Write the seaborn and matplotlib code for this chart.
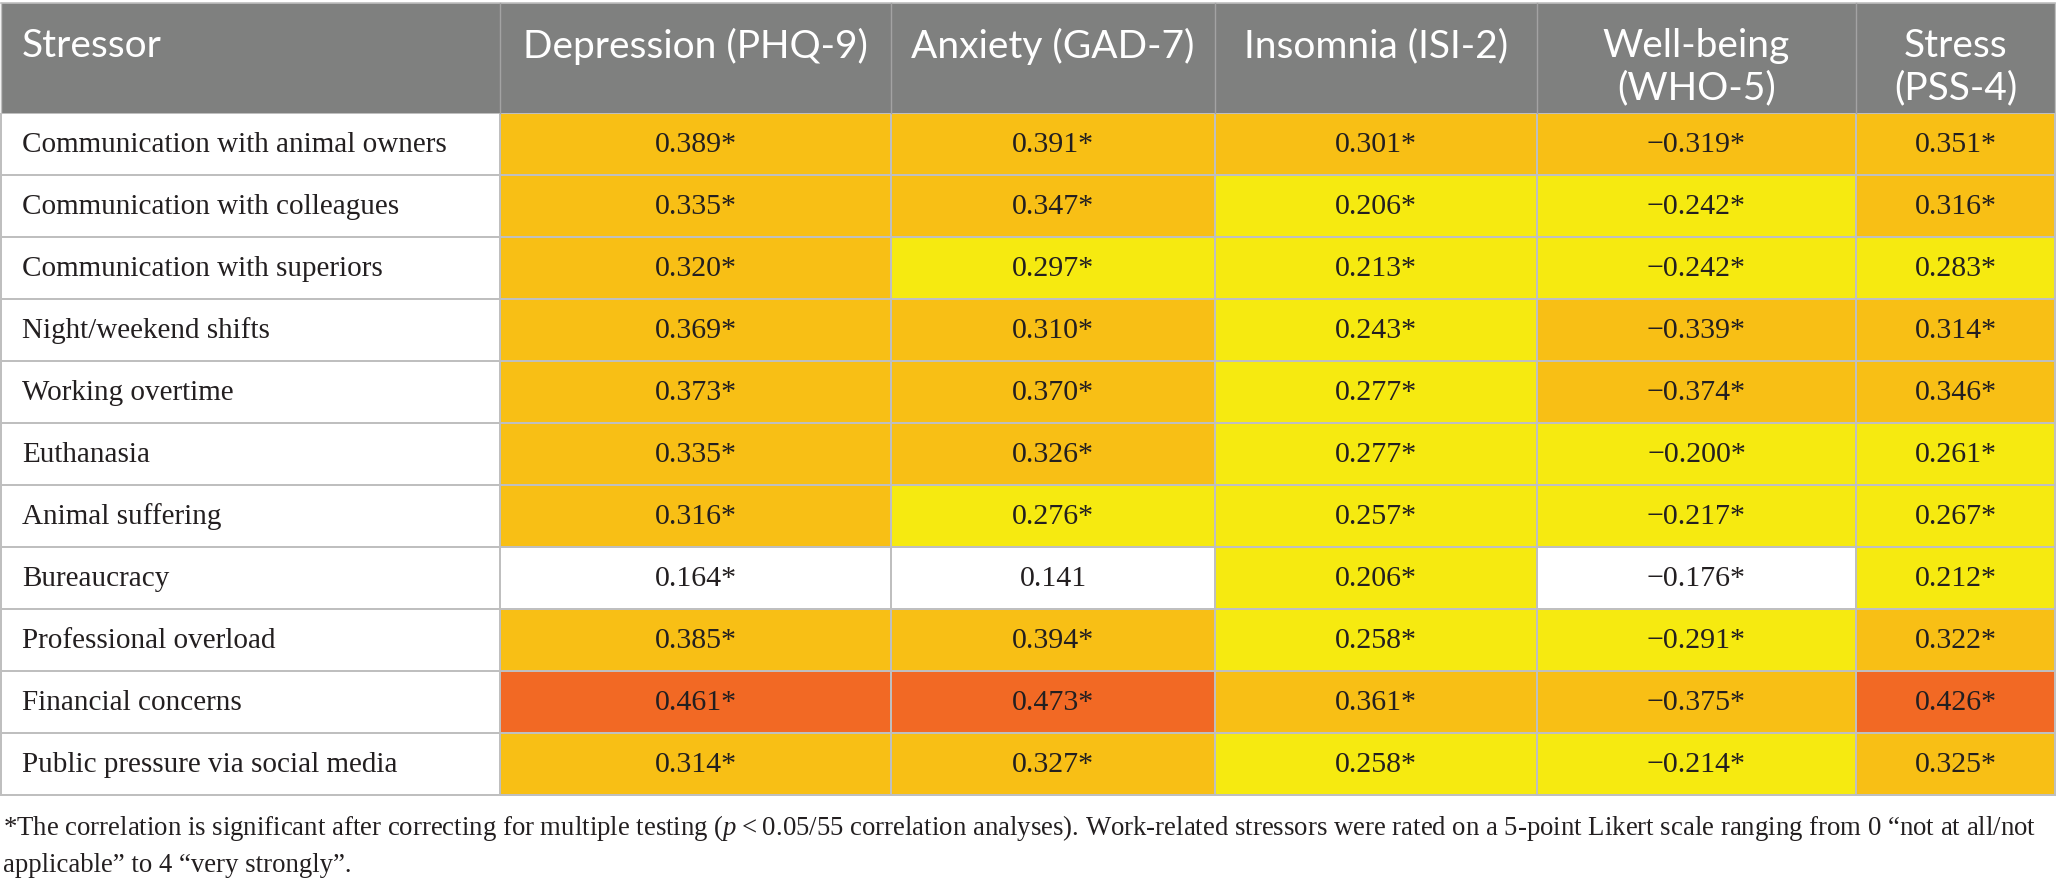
import numpy as np
import pandas as pd
import matplotlib.pyplot as plt
import seaborn as sns
from matplotlib.colors import ListedColormap, BoundaryNorm
from matplotlib.patches import Rectangle
from matplotlib.lines import Line2D

# table data
stressors = [
    "Communication with animal owners",
    "Communication with colleagues",
    "Communication with superiors",
    "Night/weekend shifts",
    "Working overtime",
    "Euthanasia",
    "Animal suffering",
    "Bureaucracy",
    "Professional overload",
    "Financial concerns",
    "Public pressure via social media",
]
headers = ["Stressor", "Depression (PHQ-9)", "Anxiety (GAD-7)", "Insomnia (ISI-2)",
           "Well-being\n(WHO-5)", "Stress\n(PSS-4)"]
depression = [0.389, 0.335, 0.320, 0.369, 0.373, 0.335, 0.316, 0.164, 0.385, 0.461, 0.314]
anxiety = [0.391, 0.347, 0.297, 0.310, 0.370, 0.326, 0.276, 0.141, 0.394, 0.473, 0.327]
insomnia = [0.301, 0.206, 0.213, 0.243, 0.277, 0.277, 0.257, 0.206, 0.258, 0.361, 0.258]
wellbeing = [-0.319, -0.242, -0.242, -0.339, -0.374, -0.200, -0.217, -0.176, -0.291, -0.375, -0.214]
stress = [0.351, 0.316, 0.283, 0.314, 0.346, 0.261, 0.267, 0.212, 0.322, 0.426, 0.325]
not_significant = [("Bureaucracy", "Anxiety (GAD-7)")]
footnote = [
    "*The correlation is significant after correcting for multiple testing (${\\it p}$\u2009<\u20090.05/55 correlation analyses). "
    "Work-related stressors were rated on a 5-point Likert scale ranging from 0 \u201cnot at all/not",
    "applicable\u201d to 4 \u201cvery strongly\u201d.",
]

df = pd.DataFrame({h: v for h, v in zip(headers[1:], [depression, anxiety, insomnia, wellbeing, stress])},
                  index=stressors)

# colour classes by |r|
bins = [0, 0.2, 0.3, 0.4, 1.0]
cmap = ListedColormap(["#ffffff", "#f6ea10", "#f8bf15", "#f26924"])
norm = BoundaryNorm(bins, cmap.N)

header_gray = "#7f807f"
grid = "#bfbfbf"
ink = "#231f20"
serif = ["Liberation Serif", "DejaVu Serif"]
sans = ["Lato", "DejaVu Sans"]

plt.rcParams["mathtext.fontset"] = "custom"
plt.rcParams["mathtext.rm"] = "Liberation Serif"
plt.rcParams["mathtext.it"] = "Liberation Serif:italic"

W, H = 2056, 887
fig = plt.figure(figsize=(W / 100, H / 100), dpi=100)

col_edges = [1, 500, 891, 1215, 1537, 1856, 2055]
top, head_bot, row_h = 4, 114, 62
body_bot = head_bot + row_h * len(stressors)


def fx(x):
    return x / W


def fy(y):
    return 1 - y / H


# header band
fig.patches.append(Rectangle((fx(col_edges[0]), fy(head_bot)), fx(col_edges[-1] - col_edges[0]),
                             (head_bot - top) / H, transform=fig.transFigure,
                             facecolor=header_gray, edgecolor="none", zorder=0))
fig.add_artist(Line2D([fx(col_edges[0]), fx(col_edges[-1])], [fy(top), fy(top)],
                      transform=fig.transFigure, color=grid, lw=1.2))
for x in col_edges:
    fig.add_artist(Line2D([fx(x), fx(x)], [fy(top), fy(head_bot)], transform=fig.transFigure,
                          color="#a3a3a3" if x not in (col_edges[0], col_edges[-1]) else grid, lw=1.0))

for j, h in enumerate(headers):
    for k, line in enumerate(h.split("\n")):
        if j == 0:
            fig.text(fx(22), fy(46 + 42 * k), line, ha="left", va="center", color="white",
                     fontsize=28, family=sans)
        else:
            xc = (col_edges[j] + col_edges[j + 1]) / 2
            fig.text(fx(xc), fy(46 + 42 * k), line, ha="center", va="center", color="white",
                     fontsize=28, family=sans)

# body: one heatmap per column so widths can differ
rect_h = (body_bot - head_bot) / H
ax0 = fig.add_axes([fx(col_edges[0]), fy(body_bot), fx(col_edges[1] - col_edges[0]), rect_h])
sns.heatmap(pd.DataFrame({"s": np.zeros(len(stressors))}, index=stressors), ax=ax0, cmap=cmap, norm=norm,
            cbar=False, linewidths=1.1, linecolor=grid, xticklabels=False, yticklabels=False)
ax0.collections[0].set_clip_on(False)
for i, s in enumerate(stressors):
    ax0.text((22 - col_edges[0]) / (col_edges[1] - col_edges[0]), i + 0.5, s, ha="left", va="center",
             fontsize=21, family=serif, color=ink)

for j, col in enumerate(df.columns, start=1):
    vals = df[[col]]
    labels = vals.copy().astype(object)
    for r in vals.index:
        txt = f"{vals.loc[r, col]:.3f}".replace("-", "\u2212")
        if (r, col) not in not_significant:
            txt += "*"
        labels.loc[r, col] = txt
    ax = fig.add_axes([fx(col_edges[j]), fy(body_bot), fx(col_edges[j + 1] - col_edges[j]), rect_h])
    sns.heatmap(vals.abs(), ax=ax, cmap=cmap, norm=norm, annot=labels.values, fmt="", cbar=False,
                linewidths=1.1, linecolor=grid, xticklabels=False, yticklabels=False,
                annot_kws=dict(fontsize=21.5, family=serif, color=ink))
    ax.collections[0].set_clip_on(False)

# footnote, first line sized to end where the reference line ends
notes = [fig.text(fx(3), fy(828 + 38 * k), line, ha="left", va="center", fontsize=20, family=serif, color=ink)
         for k, line in enumerate(footnote)]
renderer = fig.canvas.get_renderer()
width = notes[0].get_window_extent(renderer).width
size = 20 * (2030 - 3) / width
for t in notes:
    t.set_fontsize(size)

fig.savefig("out.png", dpi=100)
